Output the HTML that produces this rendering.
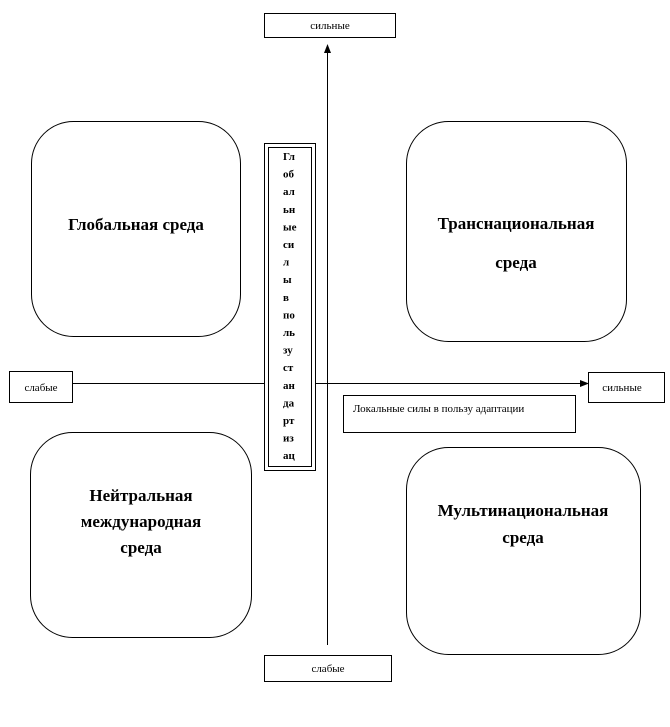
<!DOCTYPE html>
<html><head><meta charset="utf-8"><style>
html,body{margin:0;padding:0;background:#fff;}
svg{display:block;}
text{font-family:"Liberation Serif","DejaVu Serif",serif;fill:#000;}
.b{font-weight:bold;font-size:17px;}
.s{font-size:11px;}
.v{font-weight:bold;font-size:11px;}
</style></head><body>
<svg width="670" height="727" viewBox="0 0 670 727" xmlns="http://www.w3.org/2000/svg">
<g fill="none" stroke="#000" stroke-width="1">
<line x1="327.5" y1="52" x2="327.5" y2="645"/>
<line x1="73" y1="383.5" x2="582" y2="383.5"/>
</g>
<polygon points="327.5,44 324,53 331,53" fill="#000"/>
<polygon points="589,383.5 580,380 580,387" fill="#000"/>
<g fill="#fff" stroke="#000" stroke-width="1">
<rect x="264.5" y="13.5" width="131" height="24"/>
<rect x="9.5" y="371.5" width="63" height="31"/>
<rect x="588.5" y="372.5" width="76" height="30"/>
<rect x="343.5" y="395.5" width="232" height="37"/>
<rect x="264.5" y="655.5" width="127" height="26"/>
<rect x="264.5" y="143.5" width="51" height="327"/>
<rect x="268.5" y="147.5" width="43" height="319"/>
<rect x="31.5" y="121.5" width="209" height="215" rx="42"/>
<rect x="406.5" y="121.5" width="220" height="220" rx="42"/>
<rect x="30.5" y="432.5" width="221" height="205" rx="42"/>
<rect x="406.5" y="447.5" width="234" height="207" rx="42"/>
</g>
<text class="s" x="330" y="29" text-anchor="middle">сильные</text>
<text class="s" x="41" y="391" text-anchor="middle">слабые</text>
<text class="s" x="622" y="391" text-anchor="middle">сильные</text>
<text class="s" x="353" y="412">Локальные силы в пользу адаптации</text>
<text class="s" x="328" y="672" text-anchor="middle">слабые</text>
<text class="b" x="136" y="230" text-anchor="middle">Глобальная среда</text>
<text class="b" x="516" y="229" text-anchor="middle">Транснациональная</text>
<text class="b" x="516" y="268" text-anchor="middle">среда</text>
<text class="b" x="141" y="501" text-anchor="middle">Нейтральная</text>
<text class="b" x="141" y="527" text-anchor="middle">международная</text>
<text class="b" x="141" y="553" text-anchor="middle">среда</text>
<text class="b" x="523" y="516" text-anchor="middle">Мультинациональная</text>
<text class="b" x="523" y="543" text-anchor="middle">среда</text>
<g class="v">
<text x="283" y="160">Гл</text>
<text x="283" y="177.6">об</text>
<text x="283" y="195.2">ал</text>
<text x="283" y="212.8">ьн</text>
<text x="283" y="230.4">ые</text>
<text x="283" y="248">си</text>
<text x="283" y="265.6">л</text>
<text x="283" y="283.2">ы</text>
<text x="283" y="300.8">в</text>
<text x="283" y="318.4">по</text>
<text x="283" y="336">ль</text>
<text x="283" y="353.6">зу</text>
<text x="283" y="371.2">ст</text>
<text x="283" y="388.8">ан</text>
<text x="283" y="406.4">да</text>
<text x="283" y="424">рт</text>
<text x="283" y="441.6">из</text>
<text x="283" y="459.2">ац</text>
</g>
</svg>
</body></html>
